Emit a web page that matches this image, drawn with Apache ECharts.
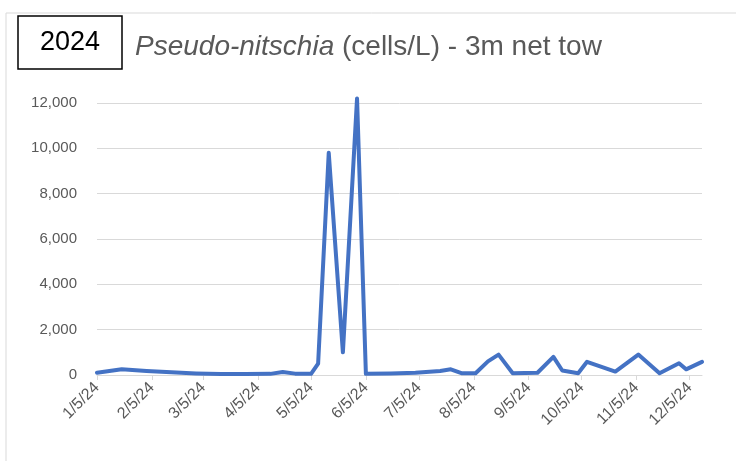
<!DOCTYPE html>
<html>
<head>
<meta charset="utf-8">
<script src="https://cdn.jsdelivr.net/npm/echarts@6/dist/echarts.min.js"></script>
<style>
html,body{margin:0;padding:0;background:#fff;}
#main{width:736px;height:461px;}
</style>
</head>
<body>
<div id="main"></div>
<script>
// Sample dates and Pseudo-nitschia counts (cells/L)
const sampleDates = ["2024-01-05","2024-01-19","2024-02-02","2024-02-16","2024-03-01","2024-03-15","2024-03-29","2024-04-12","2024-04-19","2024-04-26","2024-05-05","2024-05-09","2024-05-15","2024-05-23","2024-05-31","2024-06-05","2024-06-19","2024-07-03","2024-07-17","2024-07-23","2024-07-29","2024-08-06","2024-08-13","2024-08-19","2024-08-27","2024-09-10","2024-09-19","2024-09-24","2024-10-03","2024-10-08","2024-10-24","2024-11-06","2024-11-18","2024-11-29","2024-12-03","2024-12-12"];
const cellsPerL = [100,250,180,120,70,40,40,50,130,60,50,500,9800,1000,12200,50,70,100,180,250,80,80,600,900,80,100,800,200,80,580,150,900,80,520,250,580];

// X tick positions and labels
const tickDates = ["2024-01-05","2024-02-05","2024-03-05","2024-04-05","2024-05-05","2024-06-05","2024-07-05","2024-08-05","2024-09-05","2024-10-05","2024-11-05","2024-12-05"];
const tickLabels = ["1/5/24","2/5/24","3/5/24","4/5/24","5/5/24","6/5/24","7/5/24","8/5/24","9/5/24","10/5/24","11/5/24","12/5/24"];

const yTicks = [0,2000,4000,6000,8000,10000,12000];

const yearLabel = "2024";
const titleItalic = "Pseudo-nitschia";
const titleRest = " (cells/L) - 3m net tow";

// convert dates to day numbers (days since first sample) for a linear date axis
const t0 = Date.parse(sampleDates[0]);
const dayNum = d => Math.round((Date.parse(d) - t0) / 86400000);
const tickDays = tickDates.map(dayNum);

const chart = echarts.init(document.getElementById('main'), null, {renderer:'canvas'});

chart.setOption({
  backgroundColor:'#ffffff',
  animation:false,
  textStyle:{fontFamily:'Liberation Sans'},
  title:[{
    text: yearLabel,
    left: 18, top: 16,
    padding:[13,22,13,22],
    borderColor:'#000', borderWidth:1.5,
    textStyle:{fontSize:27, fontWeight:'normal', color:'#000', fontFamily:'Liberation Sans'}
  },{
    text: '{i|' + titleItalic + '}' + titleRest,
    left: 130, top: 28,
    textStyle:{fontSize:28, fontWeight:'normal', color:'#595959', fontFamily:'Liberation Sans',
      rich:{i:{fontStyle:'italic', fontSize:28, color:'#595959', fontFamily:'Liberation Sans'}}}
  }],
  graphic:[{
    type:'rect', silent:true, z:-10,
    shape:{x:6, y:13, width:800, height:500},
    style:{fill:'none', stroke:'#d9d9d9', lineWidth:1}
  }],
  grid:{left:97, right:34, top:103, bottom:86, containLabel:false},
  xAxis:{
    type:'value',
    min: 0,
    max: dayNum(sampleDates[sampleDates.length-1]),
    axisLine:{show:true, onZero:false, lineStyle:{color:'#d9d9d9', width:1}},
    axisTick:{show:true, length:5, lineStyle:{color:'#d9d9d9'}, customValues: tickDays},
    axisLabel:{
      customValues: tickDays,
      rotate:45, margin:10, fontSize:16, color:'#595959', fontFamily:'Liberation Sans',
      formatter: function(v){ const i = tickDays.indexOf(v); return i>=0 ? tickLabels[i] : ''; }
    },
    splitLine:{show:false}
  },
  yAxis:{
    type:'value', min:0, max:12000, interval:2000,
    axisLine:{show:false}, axisTick:{show:false},
    axisLabel:{margin:20, fontSize:15, color:'#595959', fontFamily:'Liberation Sans',
      formatter: v => v.toLocaleString('en-US')},
    splitLine:{lineStyle:{color:'#d9d9d9', width:1}}
  },
  series:[{
    type:'line',
    clip:false,
    data: sampleDates.map((d,i)=>[dayNum(d), cellsPerL[i]]),
    showSymbol:false, symbol:'none',
    lineStyle:{color:'#4472C4', width:4, join:'round', cap:'round'},
    itemStyle:{color:'#4472C4'}
  }]
});
</script>
</body>
</html>
